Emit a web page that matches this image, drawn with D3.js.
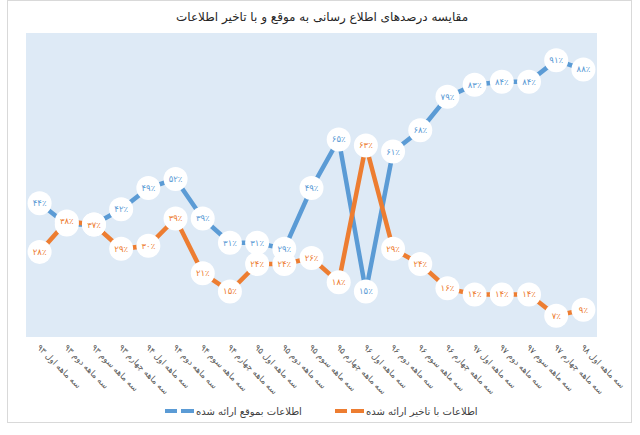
<!DOCTYPE html>
<html>
<head>
<meta charset="utf-8">
<script src="https://cdn.jsdelivr.net/npm/d3@7"></script>
<style>
  body { margin: 0; background: #fff; }
  text { font-family: "DejaVu Sans", sans-serif; }
</style>
</head>
<body>
<div id="chart"></div>
<script>
const categories = [
  "سه ماهه اول ۹۳", "سه ماهه دوم ۹۳", "سه ماهه سوم ۹۳", "سه ماهه چهارم ۹۳",
  "سه ماهه اول ۹۴", "سه ماهه دوم ۹۴", "سه ماهه سوم ۹۴", "سه ماهه چهارم ۹۴",
  "سه ماهه اول ۹۵", "سه ماهه دوم ۹۵", "سه ماهه سوم ۹۵", "سه ماهه چهارم ۹۵",
  "سه ماهه اول ۹۶", "سه ماهه دوم ۹۶", "سه ماهه سوم ۹۶", "سه ماهه چهارم ۹۶",
  "سه ماهه اول ۹۷", "سه ماهه دوم ۹۷", "سه ماهه سوم ۹۷", "سه ماهه چهارم ۹۷",
  "سه ماهه اول ۹۸"
];
const onTime = [44, 37, 37, 42, 49, 52, 39, 31, 31, 29, 49, 65, 15, 61, 68, 79, 83, 84, 84, 91, 88];
const late   = [28, 38, 37, 29, 30, 39, 21, 15, 24, 24, 26, 18, 63, 29, 24, 16, 14, 14, 14, 7, 9];
const seriesNames = ["اطلاعات بموقع ارائه شده", "اطلاعات با تاخیر ارائه شده"];
const title = "مقایسه درصدهای اطلاع رسانی به موقع و با تاخیر اطلاعات";

const width = 640, height = 435;
const blue = "#5b9bd5", orange = "#ed7d31";

const faDigits = "۰۱۲۳۴۵۶۷۸۹";
function toFa(n) {
  return String(n).replace(/\d/g, d => faDigits[+d]);
}

const svg = d3.select("#chart").append("svg")
  .attr("width", width)
  .attr("height", height);

// chart frame
svg.append("rect")
  .attr("x", 7.5).attr("y", 0.5)
  .attr("width", 624).attr("height", 422)
  .attr("fill", "#fff")
  .attr("stroke", "#d9d9d9");

const x = d3.scaleBand().domain(categories).range([26, 597]);
const y = d3.scaleLinear().domain([0, 100]).range([337, 33]);
const cx = d => x(d) + x.bandwidth() / 2;

// plot area
svg.append("rect")
  .attr("x", 26).attr("y", 33)
  .attr("width", 571).attr("height", 304)
  .attr("fill", "#deeaf6");

svg.append("text")
  .attr("x", 322).attr("y", 21)
  .attr("text-anchor", "middle")
  .style("font-size", "12px")
  .style("fill", "#262626")
  .text(title);

const series = [
  { name: seriesNames[0], values: onTime, color: blue },
  { name: seriesNames[1], values: late, color: orange }
];

const line = d3.line()
  .x((d, i) => cx(categories[i]))
  .y(d => y(d));

svg.selectAll("path.series")
  .data(series)
  .enter()
  .append("path")
  .attr("class", "series")
  .attr("d", d => line(d.values))
  .attr("fill", "none")
  .attr("stroke", d => d.color)
  .attr("stroke-width", 4.5);

// data labels in white circles
series.forEach(s => {
  const g = svg.append("g");
  const lab = g.selectAll("g")
    .data(s.values)
    .enter()
    .append("g")
    .attr("transform", (d, i) => `translate(${cx(categories[i])},${y(d)})`);
  lab.append("circle")
    .attr("r", 12)
    .attr("fill", "#fff");
  lab.append("text")
    .attr("text-anchor", "middle")
    .attr("dy", "0.35em")
    .style("font-size", "8.5px")
    .style("fill", s.color)
    .text(d => toFa(d) + "٪");
});

// category labels
svg.selectAll("text.cat")
  .data(categories)
  .enter()
  .append("text")
  .attr("class", "cat")
  .attr("transform", d => `translate(${cx(d) - 3},${348}) rotate(45)`)
  .attr("text-anchor", "start")
  .style("font-size", "8.5px")
  .style("fill", "#595959")
  .text(d => d);

// legend
const legendData = [
  { name: seriesNames[0], color: blue, x: 165 },
  { name: seriesNames[1], color: orange, x: 335 }
];
const legend = svg.selectAll("g.legend")
  .data(legendData)
  .enter()
  .append("g")
  .attr("class", "legend")
  .attr("transform", d => `translate(${d.x},411)`);

legend.append("line")
  .attr("x1", 0).attr("x2", 12)
  .attr("stroke", d => d.color)
  .attr("stroke-width", 4);
legend.append("line")
  .attr("x1", 16).attr("x2", 29)
  .attr("stroke", d => d.color)
  .attr("stroke-width", 4);
legend.append("text")
  .attr("x", 31)
  .attr("dy", "0.35em")
  .style("font-size", "10px")
  .style("fill", "#404040")
  .text(d => d.name);
</script>
</body>
</html>
